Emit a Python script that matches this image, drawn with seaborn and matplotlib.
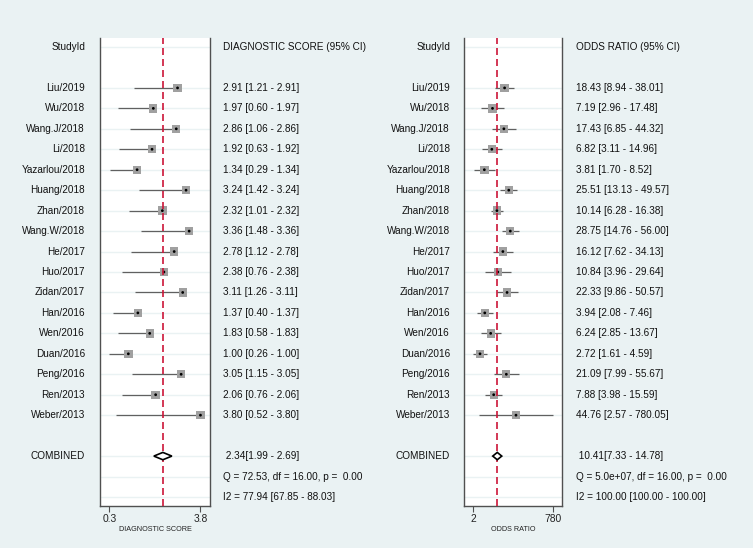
import numpy as np
import pandas as pd
import matplotlib
matplotlib.use("Agg")
import matplotlib.pyplot as plt
import seaborn as sns
from matplotlib.transforms import blended_transform_factory
from matplotlib.ticker import NullLocator

# ---------------- data ----------------
studies = ["Liu/2019", "Wu/2018", "Wang.J/2018", "Li/2018", "Yazarlou/2018",
           "Huang/2018", "Zhan/2018", "Wang.W/2018", "He/2017", "Huo/2017",
           "Zidan/2017", "Han/2016", "Wen/2016", "Duan/2016", "Peng/2016",
           "Ren/2013", "Weber/2013"]

ds_est = [2.91, 1.97, 2.86, 1.92, 1.34, 3.24, 2.32, 3.36, 2.78, 2.38,
          3.11, 1.37, 1.83, 1.00, 3.05, 2.06, 3.80]
ds_low = [1.21, 0.60, 1.06, 0.63, 0.29, 1.42, 1.01, 1.48, 1.12, 0.76,
          1.26, 0.40, 0.58, 0.26, 1.15, 0.76, 0.52]
ds_high = [2.91, 1.97, 2.86, 1.92, 1.34, 3.24, 2.32, 3.36, 2.78, 2.38,
           3.11, 1.37, 1.83, 1.00, 3.05, 2.06, 3.80]

or_est = [18.43, 7.19, 17.43, 6.82, 3.81, 25.51, 10.14, 28.75, 16.12, 10.84,
          22.33, 3.94, 6.24, 2.72, 21.09, 7.88, 44.76]
or_low = [8.94, 2.96, 6.85, 3.11, 1.70, 13.13, 6.28, 14.76, 7.62, 3.96,
          9.86, 2.08, 2.85, 1.61, 7.99, 3.98, 2.57]
or_high = [38.01, 17.48, 44.32, 14.96, 8.52, 49.57, 16.38, 56.00, 34.13, 29.64,
           50.57, 7.46, 13.67, 4.59, 55.67, 15.59, 780.05]

comb_ds = [2.34, 1.99, 2.69]
comb_or = [10.41, 7.33, 14.78]

het_ds = ["Q = 72.53, df = 16.00, p =  0.00", "I2 = 77.94 [67.85 - 88.03]"]
het_or = ["Q = 5.0e+07, df = 16.00, p =  0.00", "I2 = 100.00 [100.00 - 100.00]"]

ds_ticks = [0.26, 3.80]
ds_ticklabels = ["0.3", "3.8"]
or_ticks = [1.61, 780.05]
or_ticklabels = ["2", "780"]

# ---------------- style ----------------
BG = "#eaf2f3"
RED = "#cc1538"
SQ = "#a0a0a0"
CI = "#606060"
SPINE = "#505050"
FS = 7.2

sns.set_style("white")
plt.rcParams["font.family"] = ["Liberation Sans", "DejaVu Sans"]

fig = plt.figure(figsize=(7.53, 5.48), dpi=100, facecolor=BG)

H = 548.0
W = 753.0
ax_bottom = 1 - 506 / H
ax_height = 468 / H
axL = fig.add_axes([100 / W, ax_bottom, 110 / W, ax_height])
axR = fig.add_axes([464.3 / W, ax_bottom, 97.4 / W, ax_height])

n = len(studies)
rows = np.arange(n) + 2
comb_row = n + 3
q_row = comb_row + 1
i2_row = comb_row + 2


def panel(ax, est, low, high, comb, ticks, ticklabels, xlabel, header,
          het, log, xlim, label_x, text_x):
    ax.set_facecolor("white")
    if log:
        ax.set_xscale("log")
    ax.set_xlim(*xlim)
    ax.set_ylim(i2_row + 0.44, -0.44)

    for r in [0] + list(rows) + [comb_row, q_row, i2_row]:
        ax.axhline(r, color=BG, lw=1.0, zorder=0)

    df = pd.DataFrame({"study": studies, "est": est, "low": low,
                       "high": high, "row": rows})
    ax.hlines(df["row"], df["low"], df["high"], color=CI, lw=0.9, zorder=2)
    sns.scatterplot(data=df, x="est", y="row", marker="s", s=36, color=SQ,
                    edgecolor="none", linewidth=0, ax=ax, zorder=3,
                    legend=False)
    sns.scatterplot(data=df, x="est", y="row", marker="o", s=4,
                    color="black", edgecolor="none", linewidth=0, ax=ax,
                    zorder=4, legend=False)

    ax.axvline(comb[0], color=RED, lw=1.2, dashes=(4.2, 2.4), zorder=5)
    dh = 0.18
    ax.fill([comb[1], comb[0], comb[2], comb[0], comb[1]],
            [comb_row, comb_row - dh, comb_row, comb_row + dh, comb_row],
            facecolor="white", edgecolor="black", lw=1.2, zorder=6)

    ax.set_xticks(ticks)
    ax.set_xticklabels(ticklabels, fontsize=7.4, color="#222222")
    ax.xaxis.set_minor_locator(NullLocator())
    ax.set_yticks([])
    ax.tick_params(axis="x", direction="out", length=4, width=0.8,
                   color=SPINE, pad=1.5, bottom=True)
    ax.set_xlabel(xlabel, fontsize=5.2, labelpad=1.5, color="#222222")
    ax.set_ylabel("")
    for side in ["left", "right", "bottom"]:
        ax.spines[side].set_color(SPINE)
        ax.spines[side].set_linewidth(1.0)
        ax.spines[side].set_visible(True)
    ax.spines["top"].set_visible(False)

    tr = blended_transform_factory(fig.transFigure, ax.transData)
    kw = dict(fontsize=FS, va="center", color="#111111", transform=tr)
    ax.text(label_x, 0, "StudyId", ha="right", **kw)
    ax.text(text_x, 0, header, ha="left", **kw)
    for s, e, l, h, r in zip(studies, est, low, high, rows):
        ax.text(label_x, r, s, ha="right", **kw)
        ax.text(text_x, r, f"{e:.2f} [{l:.2f} - {h:.2f}]", ha="left", **kw)
    ax.text(label_x, comb_row, "COMBINED", ha="right", **kw)
    ax.text(text_x, comb_row, f" {comb[0]:.2f}[{comb[1]:.2f} - {comb[2]:.2f}]",
            ha="left", **kw)
    ax.text(text_x, q_row, het[0], ha="left", **kw)
    ax.text(text_x, i2_row, het[1], ha="left", **kw)


panel(axL, ds_est, ds_low, ds_high, comb_ds, ds_ticks, ds_ticklabels,
      "DIAGNOSTIC SCORE", "DIAGNOSTIC SCORE (95% CI)", het_ds, False,
      (-0.10, 4.17), 85 / W, 223 / W)
panel(axR, or_est, or_low, or_high, comb_or, or_ticks, or_ticklabels,
      "ODDS RATIO", "ODDS RATIO (95% CI)", het_or, True,
      (0.80, 1572), 450 / W, 576 / W)

fig.savefig("out.png", dpi=100, facecolor=BG)
